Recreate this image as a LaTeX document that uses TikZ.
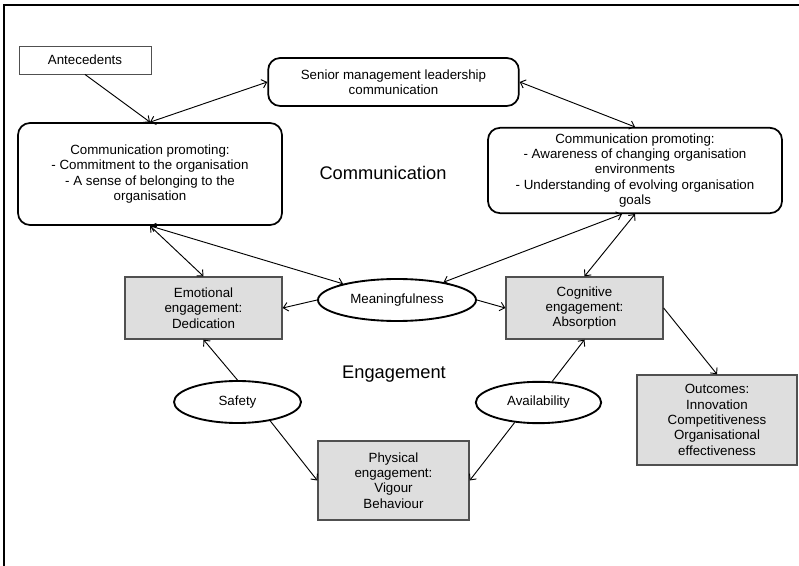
\documentclass[tikz,border=0pt]{standalone}
\usepackage{fontspec}
\setmainfont{Liberation Sans}
\usepackage{tikz}
\usetikzlibrary{shapes.geometric, arrows.meta, positioning, calc}
\definecolor{engagegray}{RGB}{222,222,222}
\definecolor{edgegray}{RGB}{80,80,80}

\begin{document}
\begin{tikzpicture}[x=0.75pt, y=-0.75pt,
    >={Straight Barb[length=3.5pt,width=6.5pt]},
    every node/.style={font=\fontsize{10}{11.5}\selectfont, align=center, inner sep=0pt},
    commbox/.style={draw, line width=1.3pt, rounded corners=9pt},
    engbox/.style={draw=edgegray, line width=1pt, fill=engagegray},
    factor/.style={draw, ellipse, line width=1.4pt},
    link/.style={line width=0.7pt}]
    \useasboundingbox (0,0) rectangle (799,566);

    % Frame
    \draw[line width=1.6pt] (4,566) -- (4,5) -- (799,5);

    % Communication level
    \node[draw=edgegray, line width=0.7pt, minimum width=99pt, minimum height=21pt] (ante) at (85,60) {Antecedents};
    \node[commbox, minimum width=188pt, minimum height=36pt] (senior) at (393.5,82) {Senior management leadership\\communication};
    \node[commbox, minimum width=198pt, minimum height=76.5pt] (cl) at (150,174) {Communication promoting:\\- Commitment to the organisation\\- A sense of belonging to the\\organisation};
    \node[commbox, minimum width=220.5pt, minimum height=64pt] (cr) at (635,170.5) {Communication promoting:\\- Awareness of changing organisation\\environments\\- Understanding of evolving organisation\\goals};
    \node[font=\fontsize{13.7}{16}\selectfont] (commlabel) at (383,173) {Communication};

    % Engagement level
    \node[engbox, minimum width=117.75pt, minimum height=46.5pt] (emo) at (203.5,308) {Emotional\\engagement:\\Dedication};
    \node[engbox, minimum width=117.75pt, minimum height=46.5pt] (cog) at (584.5,308) {Cognitive\\engagement:\\Absorption};
    \node[engbox, minimum width=113.25pt, minimum height=59.25pt] (phys) at (393.5,480.5) {Physical\\engagement:\\Vigour\\Behaviour};
    \node[engbox, minimum width=120pt, minimum height=67.5pt] (out) at (717,420) {Outcomes:\\Innovation\\Competitiveness\\Organisational\\effectiveness};
    \node[factor, minimum width=118.5pt, minimum height=31.5pt] (mean) at (397,300) {Meaningfulness};
    \node[factor, minimum width=95.25pt, minimum height=31.5pt] (safe) at (237.5,402) {Safety};
    \node[factor, minimum width=94pt, minimum height=31pt] (avail) at (538.5,402.5) {Availability};
    \node[font=\fontsize{13.7}{16}\selectfont] (englabel) at (394,374) {Engagement};

    % Arrows
    \draw[link, ->] (ante.south) -- (cl.north);
    \draw[link, <->] (cl.north) -- (senior.west);
    \draw[link, <->] (senior.east) -- (cr.north);
    \draw[link, <->] (cl.south) -- (emo.north);
    \draw[link, <->] (cl.south) -- (mean);
    \draw[link, <->] (mean) -- ($(cr.south)+(-13,0)$);
    \draw[link, <->] (cr.south) -- (cog.north);
    \draw[link, ->] (mean.west) -- (emo.east);
    \draw[link, ->] (mean.east) -- (cog.west);
    \draw[link, ->] (safe.north) -- (emo.south);
    \draw[link, ->] (safe.-30) -- (phys.west);
    \draw[link, ->] (avail.-140) -- (phys.east);
    \draw[link, ->] (avail.57) -- (cog.south);
    \draw[link, ->] (cog.east) -- (out.north);
\end{tikzpicture}
\end{document}
